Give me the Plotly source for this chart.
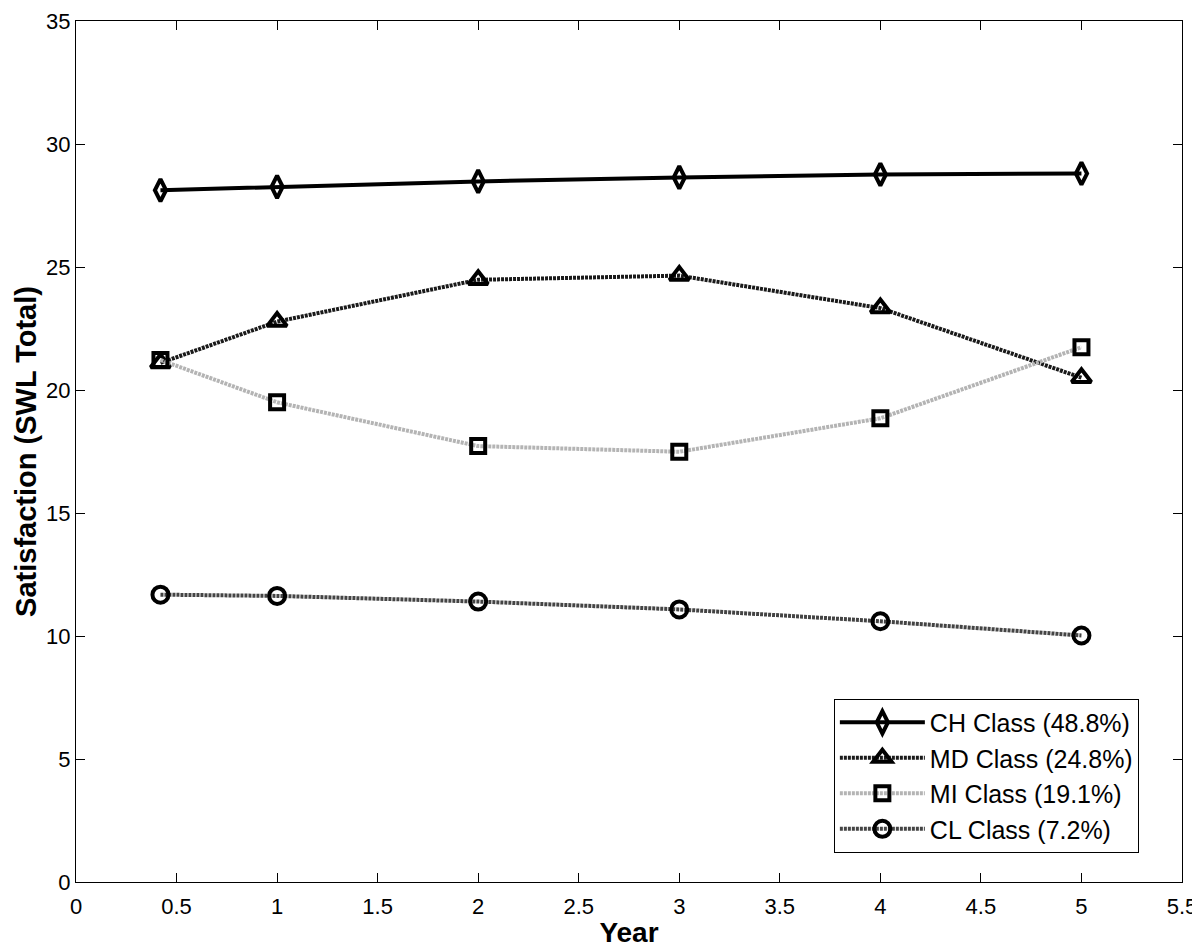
import plotly.graph_objects as go

years = [0.42, 1, 2, 3, 4, 5]
ch = [28.12, 28.26, 28.48, 28.64, 28.76, 28.80]
md = [21.10, 22.78, 24.48, 24.65, 23.33, 20.50]
mi = [21.22, 19.50, 17.72, 17.49, 18.85, 21.74]
cl = [11.68, 11.63, 11.40, 11.08, 10.60, 10.02]

names = ["CH Class (48.8%)", "MD Class (24.8%)", "MI Class (19.1%)", "CL Class (7.2%)"]
series = [ch, md, mi, cl]
line_colors = ["#000000", "#1a1a1a", "#b4b4b4", "#444444"]
dashes = ["solid", "3px,1px", "3px,1px", "3px,1px"]
symbols = ["diamond-tall-open", "triangle-up-open", "square-open", "circle-open"]
sizes = [16, 17, 14, 16]

fig = go.Figure()
for name, vals, lc, ds, sym, sz in zip(names, series, line_colors, dashes, symbols, sizes):
    fig.add_trace(go.Scatter(
        x=years, y=vals, name=name, mode="lines+markers",
        line=dict(color=lc, width=4, dash=ds),
        marker=dict(symbol=sym, size=sz, color="#000000",
                    line=dict(color="#000000", width=4)),
    ))

fig.update_layout(
    width=1192, height=941,
    paper_bgcolor="white", plot_bgcolor="white",
    margin=dict(l=68, r=18, t=13, b=67),
    font=dict(family="Liberation Sans, Arial", size=22, color="#000"),
    showlegend=True,
    legend=dict(
        x=0.961, y=0.213, xanchor="right", yanchor="top",
        bgcolor="white", bordercolor="#000", borderwidth=1,
        font=dict(size=25), tracegroupgap=0, itemwidth=85,
    ),
)
fig.update_xaxes(
    range=[0, 5.5], tickmode="array", automargin=False,
    tickvals=[0, 0.5, 1, 1.5, 2, 2.5, 3, 3.5, 4, 4.5, 5, 5.5],
    ticktext=["0", "0.5", "1", "1.5", "2", "2.5", "3", "3.5", "4", "4.5", "5", "5.5"],
    tickfont=dict(size=22), ticklabeloverflow="allow", ticklabelstandoff=5,
    showline=True, linecolor="#000", linewidth=1, mirror="ticks",
    ticks="inside", ticklen=9, tickcolor="#000",
    showgrid=False, zeroline=False,
    title=dict(text="<b>Year</b>", font=dict(size=28), standoff=3),
)
fig.update_yaxes(
    range=[0, 35], tickmode="array", automargin=False,
    tickvals=[0, 5, 10, 15, 20, 25, 30, 35],
    ticktext=["0", "5", "10", "15", "20", "25", "30", "35"],
    tickfont=dict(size=22), ticklabeloverflow="allow",
    showline=True, linecolor="#000", linewidth=1, mirror="ticks",
    ticks="inside", ticklen=9, tickcolor="#000",
    showgrid=False, zeroline=False,
    title=dict(text="<b>Satisfaction (SWL Total)</b>", font=dict(size=29), standoff=0),
)

fig.write_html("out.html")
